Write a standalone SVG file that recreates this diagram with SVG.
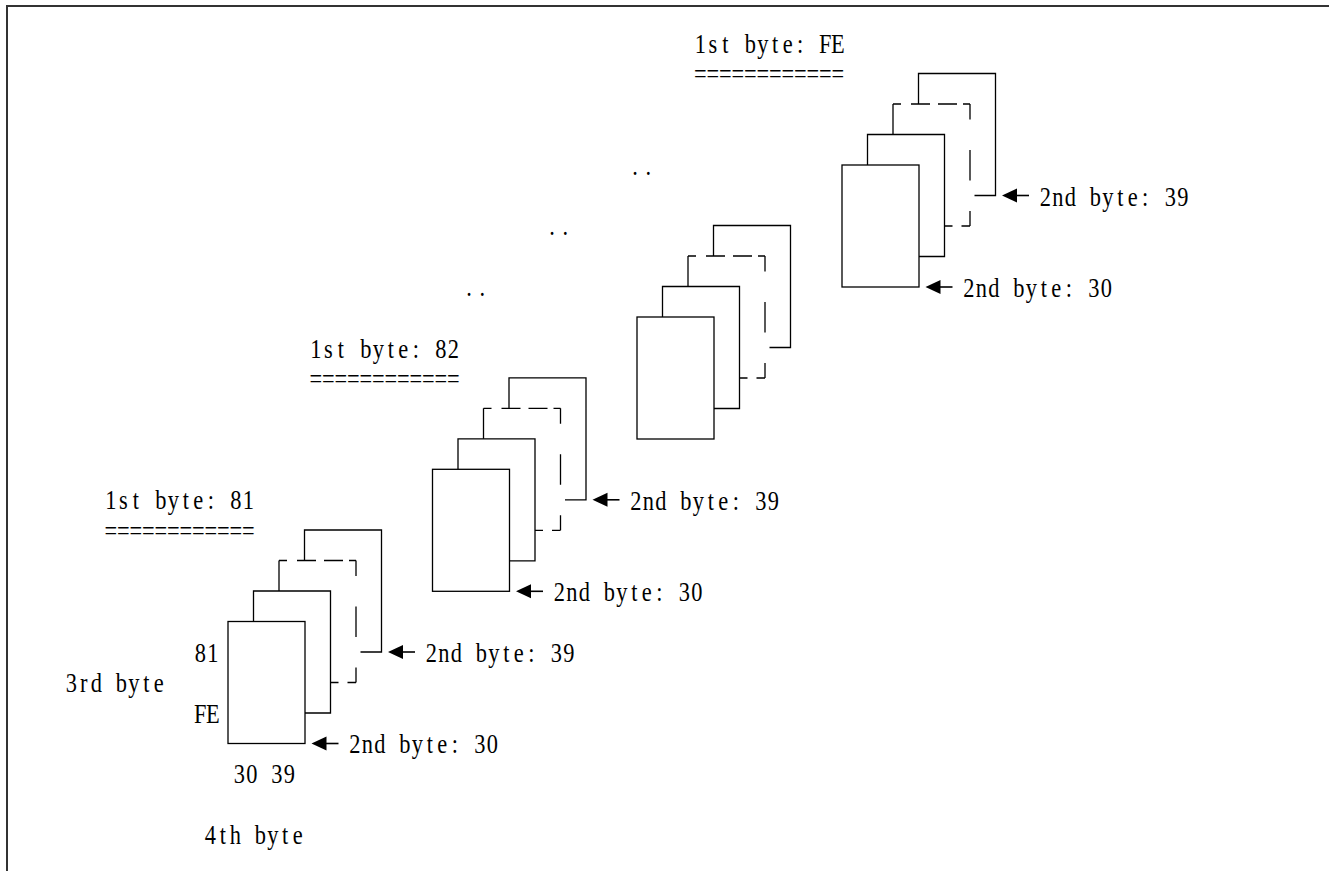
<svg xmlns="http://www.w3.org/2000/svg" width="1329" height="871" viewBox="0 0 1329 871">
<style>
.ln{fill:none;stroke:#000;stroke-width:1.3}
.fr{fill:#fff;stroke:#000;stroke-width:1.3}
.dh{stroke-dasharray:8 10 19 8 19 6 7 100}
.dv{stroke-dasharray:15.5 30.5 30.5 30.5 15.5 100}
.db{stroke-dasharray:8 9 9 100}
.t{font-family:"Liberation Serif","DejaVu Serif",serif;font-size:28px;fill:#000;text-anchor:middle}
.ah{fill:#000}
.al{stroke:#000;stroke-width:1.6}
</style>
<rect width="1329" height="871" fill="#fff"/>
<path d="M7,871 V6 H1329" fill="none" stroke="#333" stroke-width="2"/>
<defs>
<g id="stackShape">
<path class="ln" d="M25.5,0 V-30.5 H102.5 V91.5 H77"/>
<path class="ln" d="M51,-30.5 V-61"/>
<path class="ln dh" d="M51,-61 H128"/>
<path class="ln dv" d="M128,-61 V61"/>
<path class="ln db" d="M102.5,61 H128"/>
<path class="ln" d="M76.5,-61 V-91.5 H153.5 V30.5 H132.5"/>
<rect class="fr" x="0" y="0" width="77" height="122"/>
</g>
</defs>
<g id="stack-81">
<use href="#stackShape" transform="translate(228,621.5)"/>
<text class="t" transform="scale(0.8,1)" x="138.44 154.06 169.69 185.31 200.94 216.56 232.19 247.81 263.44 279.06 294.69 310.31" y="509.5">1st byte: 81</text>
<text class="t" transform="scale(0.8,1)" x="138.44 154.06 169.69 185.31 200.94 216.56 232.19 247.81 263.44 279.06 294.69 310.31" y="540">============</text>
<text class="t" transform="scale(0.8,1)" x="250.31 265.94" y="662">81</text>
<text class="t" transform="scale(0.8,1)" x="250.31 265.94" y="723">FE</text>
<text class="t" transform="scale(0.8,1)" x="89.06 104.69 120.31 135.94 151.56 167.19 182.81 198.44" y="692.5">3rd byte</text>
<text class="t" transform="scale(0.8,1)" x="299.06 314.69 330.31 345.94 361.56" y="783">30 39</text>
<text class="t" transform="scale(0.8,1)" x="262.81 278.44 294.06 309.69 325.31 340.94 356.56 372.19" y="844">4th byte</text>
<text class="t" transform="scale(0.8,1)" x="539.06 554.69 570.31 585.94 601.56 617.19 632.81 648.44 664.06 679.69 695.31 710.94" y="662.5">2nd byte: 39</text>
<text class="t" transform="scale(0.8,1)" x="443.44 459.06 474.69 490.31 505.94 521.56 537.19 552.81 568.44 584.06 599.69 615.31" y="753.5">2nd byte: 30</text>
</g>
<g id="stack-82">
<use href="#stackShape" transform="translate(432.5,469.3)"/>
<text class="t" transform="scale(0.8,1)" x="394.69 410.31 425.94 441.56 457.19 472.81 488.44 504.06 519.69 535.31 550.94 566.56" y="358">1st byte: 82</text>
<text class="t" transform="scale(0.8,1)" x="394.69 410.31 425.94 441.56 457.19 472.81 488.44 504.06 519.69 535.31 550.94 566.56" y="388">============</text>
<text class="t" transform="scale(0.8,1)" x="794.69 810.31 825.94 841.56 857.19 872.81 888.44 904.06 919.69 935.31 950.94 966.56" y="510.3">2nd byte: 39</text>
<text class="t" transform="scale(0.8,1)" x="699.06 714.69 730.31 745.94 761.56 777.19 792.81 808.44 824.06 839.69 855.31 870.94" y="601.3">2nd byte: 30</text>
</g>
<g id="stack-mid">
<use href="#stackShape" transform="translate(637,317)"/>
</g>
<g id="stack-FE">
<use href="#stackShape" transform="translate(842,165)"/>
<text class="t" transform="scale(0.8,1)" x="875.31 890.94 906.56 922.19 937.81 953.44 969.06 984.69 1000.31 1015.94 1031.56 1047.19" y="53">1st byte: FE</text>
<text class="t" transform="scale(0.8,1)" x="875.31 890.94 906.56 922.19 937.81 953.44 969.06 984.69 1000.31 1015.94 1031.56 1047.19" y="83.5">============</text>
<text class="t" transform="scale(0.8,1)" x="1306.56 1322.19 1337.81 1353.44 1369.06 1384.69 1400.31 1415.94 1431.56 1447.19 1462.81 1478.44" y="206">2nd byte: 39</text>
<text class="t" transform="scale(0.8,1)" x="1210.94 1226.56 1242.19 1257.81 1273.44 1289.06 1304.69 1320.31 1335.94 1351.56 1367.19 1382.81" y="297">2nd byte: 30</text>
</g>
<g id="ellipses">
<text class="t" transform="scale(0.8,1)" x="586.25 602.88" y="296">..</text>
<text class="t" transform="scale(0.8,1)" x="690 706.63" y="235.5">..</text>
<text class="t" transform="scale(0.8,1)" x="793.75 810.38" y="175">..</text>
</g>
<g id="connectors">
<polygon class="ah" points="388,652 403,645 403,659"/><line class="al" x1="402" y1="652" x2="415" y2="652"/>
<polygon class="ah" points="311.5,743.5 326.5,736.5 326.5,750.5"/><line class="al" x1="325.5" y1="743.5" x2="338.5" y2="743.5"/>
<polygon class="ah" points="592.5,499.8 607.5,492.8 607.5,506.8"/><line class="al" x1="606.5" y1="499.8" x2="619.5" y2="499.8"/>
<polygon class="ah" points="516,591.3 531,584.3 531,598.3"/><line class="al" x1="530" y1="591.3" x2="543" y2="591.3"/>
<polygon class="ah" points="1002,195.5 1017,188.5 1017,202.5"/><line class="al" x1="1016" y1="195.5" x2="1029" y2="195.5"/>
<polygon class="ah" points="925.5,287 940.5,280 940.5,294"/><line class="al" x1="939.5" y1="287" x2="952.5" y2="287"/>
</g>
</svg>
